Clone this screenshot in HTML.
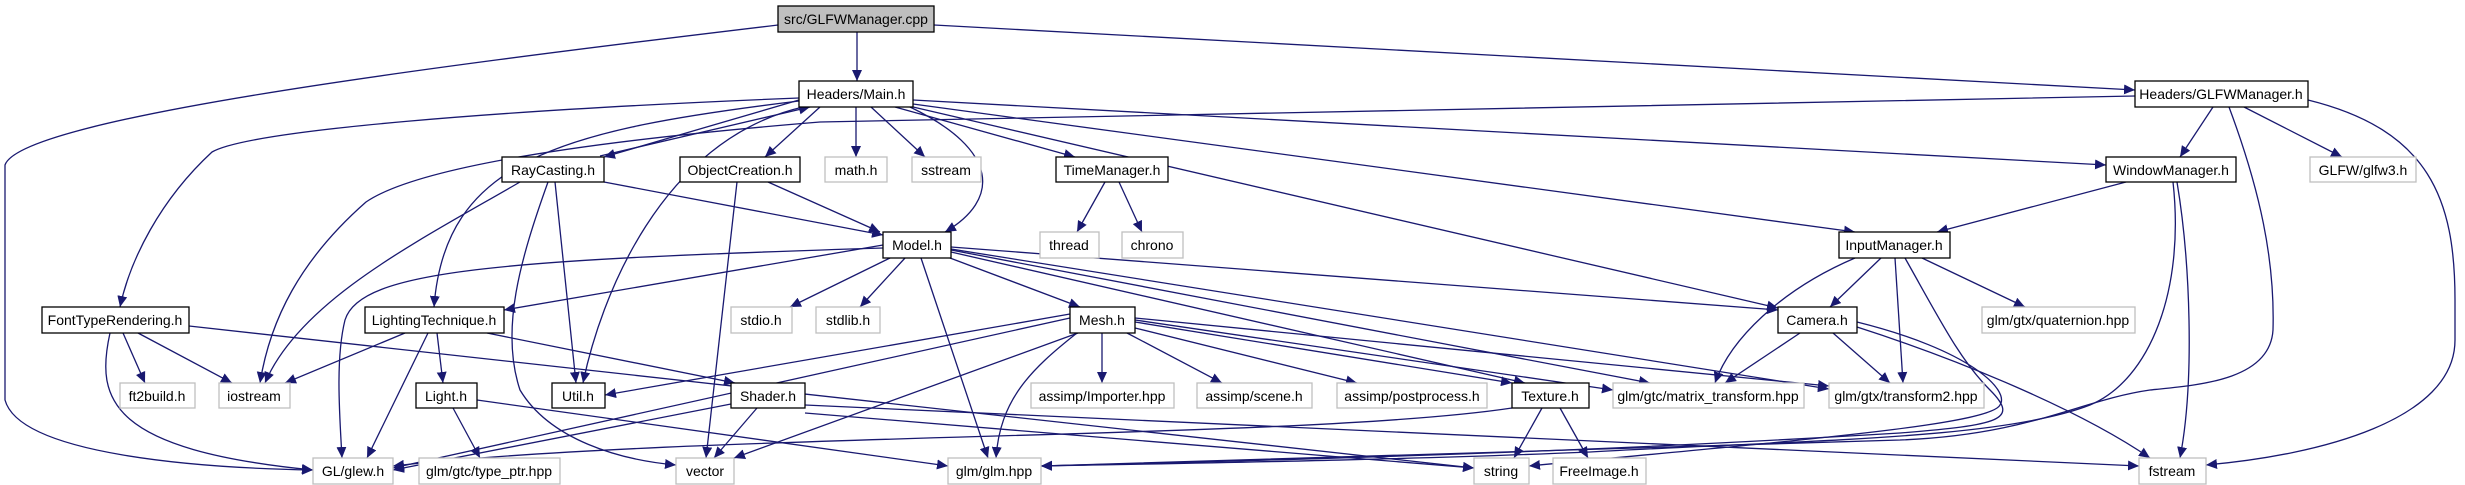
<!DOCTYPE html>
<html><head><meta charset="utf-8"><style>
html,body{margin:0;padding:0;background:#fff;width:2465px;height:485px;overflow:hidden}
svg text{font-family:"Liberation Sans",sans-serif;font-size:14px;fill:#000}
.e{fill:none;stroke:#191970;stroke-width:1.3}
</style></head><body>
<svg width="2465" height="485" viewBox="0 0 2465 485" xmlns="http://www.w3.org/2000/svg">
<defs><marker id="a" markerUnits="userSpaceOnUse" markerWidth="12" markerHeight="10" refX="11" refY="5" orient="auto"><path d="M0,0 L11,5 L0,10 z" fill="#191970"/></marker></defs>
<g class="e" marker-end="url(#a)">
<path d="M857,32 L857,81"/>
<path d="M934,25 L2135,90"/>
<path d="M778,25 C400,70 20,120 5,165 L5,400 C20,455 200,468 313,470"/>
<path d="M799,100 L604,157"/>
<path d="M600,156 L810,107"/>
<path d="M820,107 L765,157"/>
<path d="M856,107 L856,157"/>
<path d="M871,107 L925,157"/>
<path d="M895,107 L1075,157"/>
<path d="M910,107 C1000,150 1000,200 945,232"/>
<path d="M913,100 L2106,165"/>
<path d="M913,104 L1855,232"/>
<path d="M913,107 L1778,308"/>
<path d="M803,107 C660,140 600,300 583,383"/>
<path d="M799,101 C560,130 445,160 434,307"/>
<path d="M799,98 C500,110 250,130 212,152 C160,200 130,260 120,307"/>
<path d="M2135,96 L820,122 C600,140 420,165 366,202 C300,260 270,320 260,383"/>
<path d="M520,182 C420,240 300,300 265,383"/>
<path d="M768,182 L880,232"/>
<path d="M604,182 L883,235"/>
<path d="M548,182 C520,260 500,330 520,390 C550,440 620,460 676,465"/>
<path d="M555,182 L576,383"/>
<path d="M737,182 L706,458"/>
<path d="M1105,182 L1077,232"/>
<path d="M1119,182 L1142,232"/>
<path d="M2213,107 L2180,157"/>
<path d="M2244,107 L2342,157"/>
<path d="M2308,100 C2430,130 2455,200 2455,300 L2455,340 C2455,420 2320,455 2206,465"/>
<path d="M2229,107 C2260,190 2275,260 2273,330 C2270,380 2200,385 2150,390 C2080,400 2030,435 1900,440 C1600,450 1300,460 1041,466"/>
<path d="M2126,182 L1937,232"/>
<path d="M2177,182 C2190,260 2195,380 2180,458"/>
<path d="M2173,182 C2185,290 2150,380 2090,405 C2000,440 1800,440 1590,452 C1400,460 1200,463 1041,466"/>
<path d="M1881,258 L1830,307"/>
<path d="M1922,258 L2025,307"/>
<path d="M1895,258 L1903,383"/>
<path d="M1855,258 C1780,290 1730,340 1715,383"/>
<path d="M1905,258 C1940,320 1960,360 1990,390 C2020,420 2000,425 1900,433 C1700,445 1500,455 1041,466"/>
<path d="M1800,333 L1725,383"/>
<path d="M1833,333 L1890,383"/>
<path d="M1857,327 C1960,360 2080,410 2150,458"/>
<path d="M1857,322 C1970,350 2010,390 2000,405 C1990,425 1800,440 1529,466"/>
<path d="M883,245 L504,310"/>
<path d="M890,258 L790,307"/>
<path d="M905,258 L860,307"/>
<path d="M950,258 L1080,307"/>
<path d="M921,258 L988,458"/>
<path d="M883,248 C500,260 360,270 345,320 C335,360 340,420 342,458"/>
<path d="M951,252 L1525,383"/>
<path d="M951,250 L1650,383"/>
<path d="M951,249 L1829,389"/>
<path d="M951,247 L1778,310"/>
<path d="M405,333 L285,383"/>
<path d="M428,333 L367,458"/>
<path d="M437,333 L443,383"/>
<path d="M487,333 L735,383"/>
<path d="M123,333 L145,383"/>
<path d="M138,333 L232,383"/>
<path d="M110,333 C95,400 110,450 313,470"/>
<path d="M189,326 L1474,468"/>
<path d="M453,408 L480,458"/>
<path d="M477,400 L948,466"/>
<path d="M731,404 L393,470"/>
<path d="M757,408 L714,458"/>
<path d="M805,413 L1474,468"/>
<path d="M805,405 L2139,466"/>
<path d="M1070,314 L605,395"/>
<path d="M1070,318 L393,468"/>
<path d="M1078,333 L734,458"/>
<path d="M1077,333 C1030,370 1000,400 996,458"/>
<path d="M1102,333 L1102,383"/>
<path d="M1127,333 L1222,383"/>
<path d="M1135,328 L1357,383"/>
<path d="M1135,322 L1512,383"/>
<path d="M1135,320 L1613,390"/>
<path d="M1135,318 L1829,386"/>
<path d="M1512,408 C1300,440 700,432 393,466"/>
<path d="M1542,408 L1514,458"/>
<path d="M1560,408 L1588,458"/>
</g>
<g stroke-width="1.3">
<rect x="778" y="6" width="156" height="26" fill="#bfbfbf" stroke="#000"/>
<g fill="#fff" stroke="#000">
<rect x="799" y="81" width="114" height="26"/>
<rect x="2135" y="81" width="173" height="26"/>
<rect x="502" y="157" width="102" height="25"/>
<rect x="680" y="157" width="120" height="25"/>
<rect x="1056" y="157" width="112" height="25"/>
<rect x="2106" y="157" width="130" height="25"/>
<rect x="883" y="232" width="68" height="26"/>
<rect x="1839" y="232" width="111" height="26"/>
<rect x="42" y="307" width="147" height="26"/>
<rect x="365" y="307" width="139" height="26"/>
<rect x="1070" y="307" width="65" height="26"/>
<rect x="1778" y="307" width="79" height="26"/>
<rect x="416" y="383" width="61" height="25"/>
<rect x="552" y="383" width="53" height="25"/>
<rect x="731" y="383" width="74" height="25"/>
<rect x="1512" y="383" width="77" height="25"/>
</g>
<g fill="#fff" stroke="#bfbfbf">
<rect x="825" y="157" width="62" height="25"/>
<rect x="912" y="157" width="69" height="25"/>
<rect x="2310" y="157" width="106" height="25"/>
<rect x="1040" y="232" width="59" height="26"/>
<rect x="1122" y="232" width="61" height="26"/>
<rect x="731" y="307" width="61" height="26"/>
<rect x="816" y="307" width="64" height="26"/>
<rect x="1982" y="307" width="153" height="26"/>
<rect x="120" y="383" width="75" height="25"/>
<rect x="219" y="383" width="71" height="25"/>
<rect x="1031" y="383" width="143" height="25"/>
<rect x="1197" y="383" width="115" height="25"/>
<rect x="1337" y="383" width="150" height="25"/>
<rect x="1613" y="383" width="191" height="25"/>
<rect x="1829" y="383" width="155" height="25"/>
<rect x="313" y="458" width="80" height="26"/>
<rect x="419" y="458" width="141" height="26"/>
<rect x="676" y="458" width="58" height="26"/>
<rect x="948" y="458" width="93" height="26"/>
<rect x="1474" y="458" width="55" height="26"/>
<rect x="1553" y="458" width="93" height="26"/>
<rect x="2139" y="458" width="67" height="26"/>
</g></g>
<g text-anchor="middle">
<text x="856" y="24">src/GLFWManager.cpp</text>
<text x="856" y="99">Headers/Main.h</text>
<text x="2221" y="99">Headers/GLFWManager.h</text>
<text x="553" y="175">RayCasting.h</text>
<text x="740" y="175">ObjectCreation.h</text>
<text x="1112" y="175">TimeManager.h</text>
<text x="2171" y="175">WindowManager.h</text>
<text x="917" y="250">Model.h</text>
<text x="1894" y="250">InputManager.h</text>
<text x="115" y="325">FontTypeRendering.h</text>
<text x="434" y="325">LightingTechnique.h</text>
<text x="1102" y="325">Mesh.h</text>
<text x="1817" y="325">Camera.h</text>
<text x="446" y="401">Light.h</text>
<text x="578" y="401">Util.h</text>
<text x="768" y="401">Shader.h</text>
<text x="1550" y="401">Texture.h</text>
<g fill="#000">
<text x="856" y="175">math.h</text>
<text x="946" y="175">sstream</text>
<text x="2363" y="175">GLFW/glfw3.h</text>
<text x="1069" y="250">thread</text>
<text x="1152" y="250">chrono</text>
<text x="761" y="325">stdio.h</text>
<text x="848" y="325">stdlib.h</text>
<text x="2058" y="325">glm/gtx/quaternion.hpp</text>
<text x="157" y="401">ft2build.h</text>
<text x="254" y="401">iostream</text>
<text x="1102" y="401">assimp/Importer.hpp</text>
<text x="1254" y="401">assimp/scene.h</text>
<text x="1412" y="401">assimp/postprocess.h</text>
<text x="1708" y="401">glm/gtc/matrix_transform.hpp</text>
<text x="1906" y="401">glm/gtx/transform2.hpp</text>
<text x="353" y="476">GL/glew.h</text>
<text x="489" y="476">glm/gtc/type_ptr.hpp</text>
<text x="705" y="476">vector</text>
<text x="994" y="476">glm/glm.hpp</text>
<text x="1501" y="476">string</text>
<text x="1599" y="476">FreeImage.h</text>
<text x="2172" y="476">fstream</text>
</g></g>
</svg>
</body></html>
